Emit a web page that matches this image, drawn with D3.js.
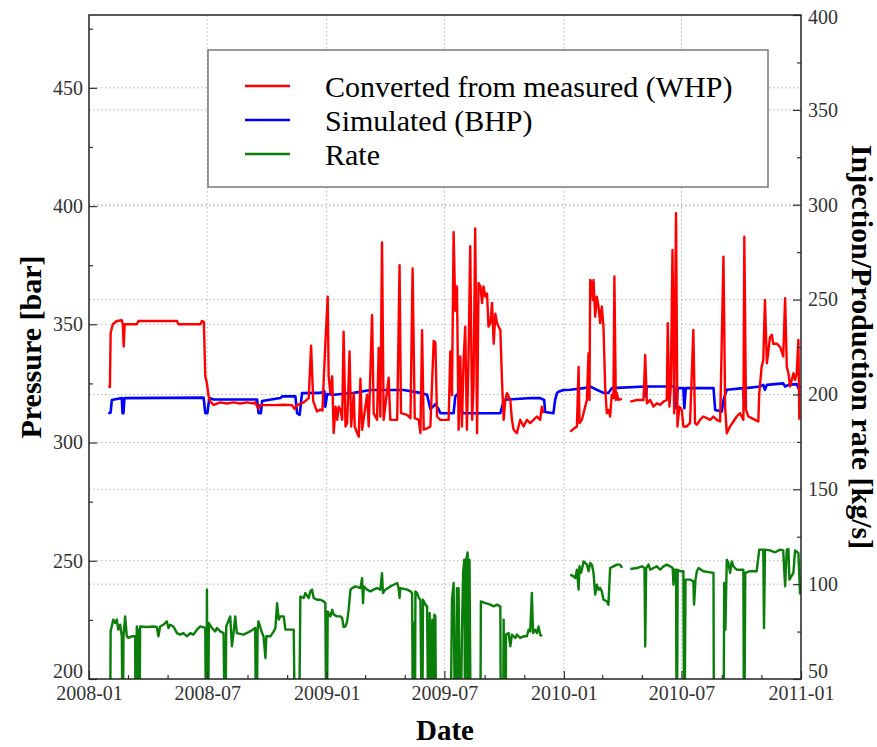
<!DOCTYPE html>
<html><head><meta charset="utf-8">
<script src="https://cdn.jsdelivr.net/npm/d3@7/dist/d3.min.js"></script>
<style>body{margin:0;background:#fff}svg{display:block}</style>
</head><body>
<svg id="chart" width="877" height="747"></svg>
<script>
// ---- data (time as decimal year) ----
const seriesNames = ["Converted from measured (WHP)", "Simulated (BHP)", "Rate"];
const xTickLabels = ["2008-01","2008-07","2009-01","2009-07","2010-01","2010-07","2011-01"];
const leftTicks = [200,250,300,350,400,450];
const rightTicks = [50,100,150,200,250,300,350,400];

const whp = [[2008.081,323.6],[2008.088,323.6],[2008.091,346.3],[2008.100,350],[2008.117,351.4],[2008.138,351.7],[2008.142,350],[2008.146,340.6],[2008.150,350],[2008.201,350],[2008.208,351.4],[2008.370,351.4],[2008.376,350],[2008.468,350],[2008.475,351.4],[2008.483,351],[2008.489,328],[2008.496,325],[2008.503,319.5],[2008.510,317.3],[2008.524,315.9],[2008.552,317],[2008.580,316.5],[2008.608,317],[2008.636,316.5],[2008.664,317],[2008.692,316.5],[2008.699,317],[2008.707,315.2],[2008.713,314.5],[2008.720,315.8],[2008.777,315.8],[2008.819,316],[2008.854,315.8],[2008.864,314.2],[2008.875,315.8],[2008.903,317],[2008.924,318.8],[2008.934,341],[2008.943,317.6],[2008.959,313.1],[2008.973,314],[2008.982,313.5],[2008.987,326],[2008.994,342],[2009.004,361.7],[2009.008,328],[2009.015,321],[2009.023,328],[2009.029,304],[2009.037,315.2],[2009.044,309.6],[2009.050,315.2],[2009.058,313.8],[2009.065,309.6],[2009.071,346.9],[2009.079,306.8],[2009.086,308.2],[2009.096,338.5],[2009.103,306.8],[2009.114,320.9],[2009.118,306.8],[2009.128,304],[2009.135,302.5],[2009.142,327],[2009.149,305.4],[2009.170,320.2],[2009.177,306.8],[2009.191,354],[2009.198,312.4],[2009.212,309.6],[2009.219,340],[2009.226,311],[2009.233,384.6],[2009.240,309.6],[2009.261,327.4],[2009.268,309.6],[2009.297,309.6],[2009.307,375],[2009.313,312.4],[2009.339,311.7],[2009.353,310.3],[2009.362,373.6],[2009.371,310.3],[2009.388,309.6],[2009.395,304],[2009.402,347.5],[2009.409,305.4],[2009.423,306],[2009.437,306.8],[2009.451,343],[2009.458,342.3],[2009.465,311],[2009.479,309.6],[2009.500,309.6],[2009.514,309.6],[2009.521,338.5],[2009.528,320],[2009.535,389],[2009.542,355.7],[2009.549,366],[2009.556,305.4],[2009.563,336.4],[2009.570,306.8],[2009.577,335],[2009.584,349],[2009.591,305.4],[2009.598,336.4],[2009.605,383],[2009.613,309.6],[2009.619,323.7],[2009.626,390.5],[2009.634,304],[2009.640,367.5],[2009.648,366],[2009.655,359],[2009.661,366],[2009.669,361.7],[2009.676,363],[2009.682,349],[2009.690,350.5],[2009.697,359],[2009.704,341.8],[2009.711,354.5],[2009.718,350.5],[2009.725,349],[2009.732,347.6],[2009.739,326],[2009.746,309.6],[2009.753,318],[2009.760,320.9],[2009.774,318],[2009.781,309.6],[2009.788,305.4],[2009.802,304],[2009.816,309.6],[2009.830,306.8],[2009.844,309.6],[2009.858,308.2],[2009.872,309.6],[2009.886,311],[2009.900,309.6],[2009.907,315.2],[2009.914,312.4],null,
[2010.027,304.6],[2010.041,305.8],[2010.055,306.8],[2010.062,332],[2010.066,308.2],[2010.076,309.6],[2010.083,312.4],[2010.090,315.2],[2010.097,318],[2010.104,337.8],[2010.108,318],[2010.111,368.8],[2010.118,367.4],[2010.122,360.3],[2010.125,368.8],[2010.132,353.2],[2010.139,361.7],[2010.146,357.5],[2010.153,350.5],[2010.160,357.5],[2010.167,349],[2010.174,323.7],[2010.181,312.4],[2010.188,313.8],[2010.195,311],[2010.202,320.2],[2010.209,318.8],[2010.213,370.2],[2010.219,318],[2010.223,321],[2010.230,318],[2010.245,318.5],null,
[2010.280,317.3],[2010.308,318],[2010.336,318],[2010.343,337],[2010.350,316.6],[2010.364,318],[2010.378,315.2],[2010.392,316.6],[2010.406,315.9],[2010.420,317.3],[2010.434,318],[2010.438,350.5],[2010.445,315.2],[2010.451,323.7],[2010.458,381.4],[2010.465,312.4],[2010.473,397],[2010.479,306.8],[2010.487,315.2],[2010.497,313.8],[2010.504,306.8],[2010.518,306.8],[2010.532,308.2],[2010.546,347.6],[2010.553,308.2],[2010.561,307.5],[2010.574,309.6],[2010.588,311],[2010.603,310.3],[2010.617,309.6],[2010.631,311],[2010.645,309.6],[2010.659,308.9],[2010.673,378.6],[2010.680,315.2],[2010.687,303.9],[2010.701,306.8],[2010.715,308.9],[2010.729,311],[2010.743,312.4],[2010.757,309.6],[2010.761,387],[2010.768,313.8],[2010.778,311],[2010.792,310.3],[2010.806,309.6],[2010.820,308.9],[2010.824,320.9],[2010.834,332.1],[2010.841,334.9],[2010.848,360.3],[2010.856,333.5],[2010.862,338],[2010.869,344.5],[2010.877,345.6],[2010.883,341.8],[2010.898,341.8],[2010.912,340.4],[2010.925,336.4],[2010.933,361],[2010.940,332.1],[2010.947,329.3],[2010.954,323.7],[2010.968,329.3],[2010.975,326.5],[2010.982,329.3],[2010.989,343.4],[2010.993,309.6]];

const bhp = [[2008.081,312.4],[2008.091,312.6],[2008.096,318],[2008.138,318.8],[2008.141,312.4],[2008.145,312.4],[2008.149,318.8],[2008.482,319],[2008.489,312.4],[2008.498,312.4],[2008.506,318.8],[2008.524,318.2],[2008.707,318.2],[2008.713,312.4],[2008.723,312.4],[2008.728,317.6],[2008.805,318.8],[2008.812,319.5],[2008.868,319.5],[2008.875,312.4],[2008.886,311.7],[2008.896,320.9],[2008.973,321],[2008.990,321.7],[2008.994,315.2],[2009.002,320.5],[2009.029,320.2],[2009.114,321],[2009.184,322.2],[2009.324,322.2],[2009.395,321],[2009.423,320.2],[2009.437,314.1],[2009.458,316.2],[2009.472,314.1],[2009.479,312.4],[2009.535,312.4],[2009.542,319.5],[2009.556,321],[2009.563,314.1],[2009.577,312.4],[2009.732,312.4],[2009.746,317.6],[2009.760,318.2],[2009.865,318.8],[2009.900,318.8],[2009.917,318],[2009.921,312.9],[2009.956,312.4],[2009.963,318],[2009.971,320.9],[2009.977,321.5],[2009.998,322.2],[2010.027,322.3],[2010.083,323],[2010.111,323.7],[2010.139,322.3],[2010.167,321],[2010.188,321],[2010.202,323],[2010.343,323.7],[2010.346,319.5],[2010.350,323.7],[2010.465,323.7],[2010.475,314.5],[2010.480,323],[2010.504,323],[2010.508,314.5],[2010.514,323],[2010.631,323],[2010.638,313.8],[2010.666,313.1],[2010.673,318],[2010.687,322.3],[2010.757,323],[2010.761,314.5],[2010.767,323],[2010.827,323.7],[2010.841,324.4],[2010.848,322.3],[2010.856,324.4],[2010.925,325],[2010.933,323.7],[2010.947,324.4],[2010.982,324.7],[2010.989,323],[2010.996,324]];

const rate = [[2008.088,0],[2008.091,75.1],[2008.102,81.3],[2008.110,79.5],[2008.117,81.3],[2008.123,76],[2008.131,78.6],[2008.138,72.5],[2008.142,0],[2008.145,72.5],[2008.152,83],[2008.159,72.5],[2008.166,71.6],[2008.180,72.5],[2008.194,72.5],[2008.197,0],[2008.201,77.7],[2008.204,0],[2008.208,76],[2008.212,0],[2008.215,77.7],[2008.243,77.4],[2008.271,77.7],[2008.285,77.4],[2008.292,72.5],[2008.299,77.7],[2008.313,78.6],[2008.327,80.4],[2008.334,76.9],[2008.341,78.6],[2008.355,77.7],[2008.370,74.2],[2008.383,73.4],[2008.397,74.2],[2008.412,72.5],[2008.426,74.2],[2008.439,73.4],[2008.454,76],[2008.468,77.7],[2008.489,76.9],[2008.493,0],[2008.496,97.1],[2008.500,0],[2008.504,79.5],[2008.517,76.9],[2008.531,75.1],[2008.538,76.9],[2008.552,75.1],[2008.566,74.2],[2008.573,0],[2008.577,77.7],[2008.594,83],[2008.601,67.2],[2008.608,74.2],[2008.615,83],[2008.622,74.2],[2008.650,73.4],[2008.678,75.1],[2008.699,76.9],[2008.704,0],[2008.709,76],[2008.713,80.4],[2008.728,74.2],[2008.734,72.5],[2008.742,61.1],[2008.746,72.5],[2008.763,72.5],[2008.777,75.1],[2008.784,76.9],[2008.791,90],[2008.798,81.3],[2008.805,83],[2008.819,83],[2008.826,76],[2008.861,76],[2008.868,0],[2008.882,0],[2008.889,93.5],[2008.903,92.7],[2008.910,95.3],[2008.924,92.7],[2008.931,96.2],[2008.938,97.1],[2008.945,92.7],[2008.959,91.8],[2008.973,91.8],[2008.987,90.9],[2008.994,90],[2008.999,0],[2009.004,85.6],[2009.015,83],[2009.023,86.5],[2009.029,83.9],[2009.044,83],[2009.058,83],[2009.065,82.1],[2009.071,77.4],[2009.079,77.7],[2009.086,80.4],[2009.093,87.4],[2009.100,97.1],[2009.107,97.9],[2009.121,98.8],[2009.142,97.9],[2009.149,103.2],[2009.153,90],[2009.156,98.8],[2009.170,97.1],[2009.184,96.2],[2009.198,97.1],[2009.212,97.9],[2009.226,97.1],[2009.233,105.8],[2009.237,95.3],[2009.247,97.1],[2009.268,98.8],[2009.282,99.7],[2009.297,100.6],[2009.303,97.9],[2009.307,92.7],[2009.310,97.9],[2009.339,97.1],[2009.353,96.2],[2009.360,95.3],[2009.364,0],[2009.367,79.5],[2009.371,0],[2009.374,96.2],[2009.381,95.3],[2009.388,92.7],[2009.395,91.8],[2009.402,0],[2009.406,91.8],[2009.416,89.2],[2009.423,88.3],[2009.430,0],[2009.434,84.8],[2009.440,0],[2009.445,81.3],[2009.451,0],[2009.454,83.9],[2009.458,83],[2009.462,0],[2009.521,0],[2009.528,91.8],[2009.535,100.6],[2009.542,0],[2009.549,97.9],[2009.552,0],[2009.556,97.9],[2009.563,0],[2009.570,74.2],[2009.575,105.8],[2009.580,112.9],[2009.584,0],[2009.588,112.9],[2009.594,116.7],[2009.598,0],[2009.602,112.9],[2009.608,0],[2009.647,0],[2009.650,90.9],[2009.669,90],[2009.690,89.2],[2009.704,88.3],[2009.718,89.2],[2009.732,88.3],[2009.735,0],[2009.743,0],[2009.746,81.3],[2009.750,0],[2009.754,0],[2009.756,73.4],[2009.767,74.2],[2009.774,67.2],[2009.781,73.4],[2009.795,71.6],[2009.802,73.4],[2009.816,71.6],[2009.830,72.5],[2009.844,72.5],[2009.851,76],[2009.858,75.1],[2009.865,95.3],[2009.870,74.2],[2009.879,76],[2009.886,74.2],[2009.893,77.7],[2009.900,73.4],[2009.907,72.5],null,
[2010.027,105],[2010.041,104.1],[2010.048,103.2],[2010.055,107.6],[2010.062,97.1],[2010.066,109.4],[2010.072,105.9],[2010.076,107.6],[2010.083,112],[2010.097,110.3],[2010.104,106.8],[2010.111,111.1],[2010.118,110.3],[2010.125,105.9],[2010.132,94.5],[2010.139,99.7],[2010.146,97.1],[2010.153,98],[2010.160,96.2],[2010.167,91.8],[2010.181,91],[2010.188,89.2],[2010.195,108.5],[2010.209,109.4],[2010.223,110.3],[2010.237,110.3],[2010.245,108.5],null,
[2010.280,108],[2010.308,108.5],[2010.329,109.4],[2010.340,108.5],[2010.343,67.2],[2010.347,108.5],[2010.357,110.3],[2010.364,107.6],[2010.378,108.5],[2010.392,109.4],[2010.406,107.6],[2010.420,109.4],[2010.434,110.3],[2010.448,109.4],[2010.459,108.5],[2010.462,99.7],[2010.465,107.6],[2010.473,107.6],[2010.476,0],[2010.480,107.6],[2010.490,106.8],[2010.504,106.8],[2010.508,0],[2010.513,102.4],[2010.532,102.4],[2010.546,101.5],[2010.549,89.2],[2010.555,102.4],[2010.561,106.8],[2010.568,108.5],[2010.588,106.8],[2010.617,106.2],[2010.631,105.9],[2010.633,0],[2010.673,0],[2010.676,100.6],[2010.681,76],[2010.687,112.9],[2010.694,111.1],[2010.701,105.9],[2010.708,112],[2010.715,109.4],[2010.729,107.6],[2010.757,107.6],[2010.760,0],[2010.765,105.9],[2010.785,106.8],[2010.813,106.8],[2010.824,118.2],[2010.841,118.2],[2010.844,76.9],[2010.848,118.2],[2010.869,117.8],[2010.891,116.8],[2010.912,118.2],[2010.925,117.8],[2010.933,98.8],[2010.940,118.2],[2010.947,118.5],[2010.951,102.4],[2010.968,105.9],[2010.975,117.8],[2010.989,116.4],[2010.996,94.5]];

// ---- layout ----
const L = 89, R = 801, T = 15, B = 679;
const FONT = "'Liberation Serif','Times New Roman',serif";
const svg = d3.select("#chart");

function toDate(y) {
  const yr = Math.floor(y);
  const s = new Date(yr, 0, 1), e = new Date(yr + 1, 0, 1);
  return new Date(+s + (y - yr) * (e - s));
}
const parseMonth = d3.timeParse("%Y-%m");
const xTicks = xTickLabels.map(parseMonth);

const x = d3.scaleTime().domain([xTicks[0], xTicks[xTicks.length - 1]]).range([L, R]);
const yL = d3.scaleLinear().domain([200, 480.8]).range([B, T]);
const yR = d3.scaleLinear().domain([50, 400]).range([B, T]);

// grid
const grid = svg.append("g").attr("stroke", "#b4b4b4").attr("stroke-width", 1).attr("stroke-dasharray", "1.5,2.5");
leftTicks.slice(1).forEach(v => grid.append("line").attr("x1", L).attr("x2", R).attr("y1", yL(v)).attr("y2", yL(v)));
rightTicks.slice(1, -1).forEach(v => grid.append("line").attr("x1", L).attr("x2", R).attr("y1", yR(v)).attr("y2", yR(v)));
xTicks.slice(1, -1).forEach(d => grid.append("line").attr("x1", x(d)).attr("x2", x(d)).attr("y1", T).attr("y2", B));

// clip
svg.append("clipPath").attr("id", "clip").append("rect").attr("x", L).attr("y", T).attr("width", R - L).attr("height", B - T);

const plot = svg.append("g").attr("clip-path", "url(#clip)");
const lineL = d3.line().defined(d => d).x(d => x(toDate(d[0]))).y(d => yL(d[1]));
const lineR = d3.line().defined(d => d).x(d => x(toDate(d[0]))).y(d => yR(d[1]));
const colors = ["#ff0000", "#0000ff", "#0a7d0a"];

plot.append("path").datum(rate).attr("d", lineR).attr("fill", "none").attr("stroke", colors[2]).attr("stroke-width", 2.4).attr("stroke-linejoin", "round");
plot.append("path").datum(bhp).attr("d", lineL).attr("fill", "none").attr("stroke", colors[1]).attr("stroke-width", 2.6).attr("stroke-linejoin", "round");
plot.append("path").datum(whp).attr("d", lineL).attr("fill", "none").attr("stroke", colors[0]).attr("stroke-width", 2.4).attr("stroke-linejoin", "round");

// axes
function styleAxis(g) {
  g.select(".domain").remove();
  g.selectAll(".tick line").attr("stroke", "#333").attr("stroke-width", 1.2);
  g.selectAll("text").attr("font-family", FONT).attr("font-size", 20).attr("fill", "#333");
}
svg.append("g").attr("transform", `translate(${L},0)`)
  .call(d3.axisLeft(yL).tickValues(leftTicks).tickSize(-8).tickPadding(6).tickFormat(d3.format("d"))).call(styleAxis)
  .selectAll(".tick text").attr("dy", d => d === 200 ? "-0.1em" : "0.32em");
svg.append("g").attr("transform", `translate(${L},0)`)
  .call(d3.axisLeft(yL).tickValues(d3.range(225, 480, 50)).tickSize(-4).tickFormat("")).call(styleAxis);
svg.append("g").attr("transform", `translate(${R},0)`)
  .call(d3.axisRight(yR).tickValues(rightTicks).tickSize(-8).tickPadding(7).tickFormat(d3.format("d"))).call(styleAxis)
  .selectAll(".tick text").attr("dy", d => d === 50 ? "-0.1em" : (d === 400 ? "0.4em" : "0.32em"));
svg.append("g").attr("transform", `translate(${R},0)`)
  .call(d3.axisRight(yR).tickValues(d3.range(75, 400, 50)).tickSize(-4).tickFormat("")).call(styleAxis);
svg.append("g").attr("transform", `translate(0,${B})`)
  .call(d3.axisBottom(x).tickValues(xTicks).tickSize(-8).tickPadding(7).tickFormat(d3.timeFormat("%Y-%m"))).call(styleAxis);
svg.append("g").attr("transform", `translate(0,${B})`)
  .call(d3.axisBottom(x).tickValues(d3.timeMonth.every(2).range(xTicks[0], xTicks[xTicks.length - 1]).filter(d => d.getMonth() % 6 !== 0)).tickSize(-4).tickFormat("")).call(styleAxis);

// frame
svg.append("rect").attr("x", L).attr("y", T).attr("width", R - L).attr("height", B - T)
  .attr("fill", "none").attr("stroke", "#222").attr("stroke-width", 1.5);

// titles
svg.append("text").attr("transform", `translate(30,${(T + B) / 2}) rotate(-90)`).attr("text-anchor", "middle").attr("dy", "0.35em")
  .attr("font-family", FONT).attr("font-weight", "bold").attr("font-size", 30).attr("fill", "#000").text("Pressure [bar]");
svg.append("text").attr("transform", `translate(862,${(T + B) / 2}) rotate(90)`).attr("text-anchor", "middle").attr("dy", "0.35em")
  .attr("font-family", FONT).attr("font-weight", "bold").attr("font-size", 30).attr("fill", "#000").text("Injection/Production rate [kg/s]");
svg.append("text").attr("x", (L + R) / 2).attr("y", 740).attr("text-anchor", "middle")
  .attr("font-family", FONT).attr("font-weight", "bold").attr("font-size", 29).attr("fill", "#000").text("Date");

// legend
const lg = svg.append("g");
lg.append("rect").attr("x", 208).attr("y", 50).attr("width", 560).attr("height", 137)
  .attr("fill", "#fff").attr("stroke", "#777").attr("stroke-width", 1.5);
seriesNames.forEach((name, i) => {
  const cy = 86 + i * 34;
  lg.append("line").attr("x1", 245).attr("x2", 290).attr("y1", cy).attr("y2", cy).attr("stroke", colors[i]).attr("stroke-width", 2.5);
  lg.append("text").attr("x", 325).attr("y", cy).attr("dy", "0.35em").attr("font-family", FONT).attr("font-size", 30).attr("fill", "#000").text(name);
});
</script>
</body></html>
